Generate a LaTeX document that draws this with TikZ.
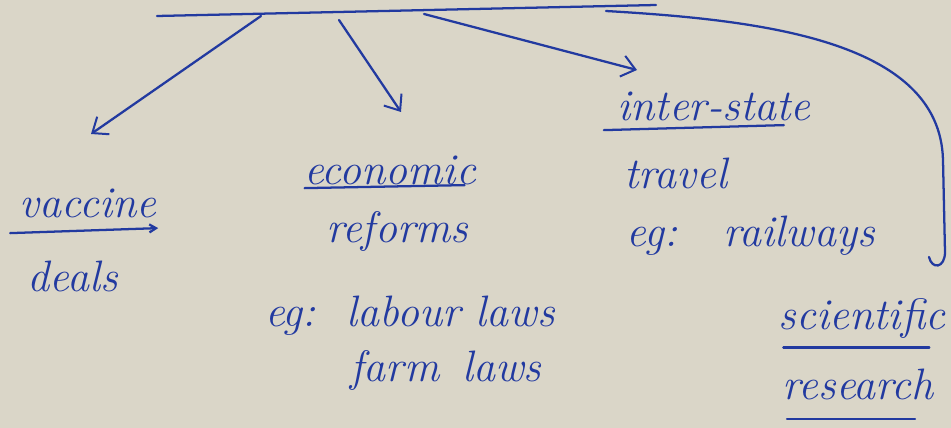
\documentclass[tikz,border=0pt]{standalone}
\usetikzlibrary{arrows.meta}

\definecolor{paper}{RGB}{218,214,200}
\definecolor{ink}{RGB}{34,58,160}

\tikzset{
  pen/.style={ink, line width=1.7pt, line cap=round},
  branch/.style={pen, -{Straight Barb[length=10pt,width=16pt,line width=1.5pt]}},
  note/.style={ink, font=\fontsize{33}{35}\selectfont\itshape, inner sep=1pt}
}

\begin{document}
\begin{tikzpicture}[x=0.75pt,y=-0.75pt]
\fill[paper] (0,0) rectangle (951,428);
\useasboundingbox (0,0) rectangle (951,428);
% stem line
\coordinate (lineL) at (157,16);
\coordinate (lineR) at (656,5);
\draw[pen] (lineL) -- (lineR);
\coordinate (fromA) at (261,16);
\coordinate (fromB) at (339,20);
\coordinate (fromC) at (424,14);
\coordinate (fromD) at (606,11);
\coordinate (toA) at (91,134);
\coordinate (toB) at (401,112);
\coordinate (toC) at (637,70);
\coordinate (toD) at (929,257);
% labels
\node[note] (vaccine) at (88,203) {vaccine};
\node[note] (deals) at (73,276) {deals};
\node[note] (economic) at (390,170) {economic};
\node[note] (reforms) at (397,232) {reforms};
\node[note] (labour) at (410,316) {eg:\ \ labour laws};
\node[note] (farm) at (446,370) {farm\ \,laws};
\node[note] (inter) at (714,106) {inter-state};
\node[note] (travel) at (676,173) {travel};
\node[note] (railways) at (751,236) {eg:\ \ \ railways};
\node[note] (scientific) at (862,318) {scientific};
\node[note] (research) at (858,384) {research};
% underlines
\draw[pen, -{Straight Barb[length=5pt,width=6pt]}] (vaccine.south west) ++(-8,14) -- ++(148,-5);
\draw[pen] (economic.south west) ++(2,2) -- ++(160,-3);
\draw[pen] (inter.south west) ++(-12,8) -- ++(180,-5);
\draw[pen] (scientific.south west) ++(6,8) -- ++(146,0);
\draw[pen] (research.south west) ++(6,18) -- ++(128,0);
% branches
\draw[branch] (fromA) -- (toA);
\draw[branch] (fromB) -- (toB);
\draw[branch] (fromC) -- (toC);
\draw[pen] (fromD) .. controls (760,20) and (940,40) .. (943,160)
  -- (945,252) .. controls (945,268) and (932,270) .. (toD);
\end{tikzpicture}
\end{document}
